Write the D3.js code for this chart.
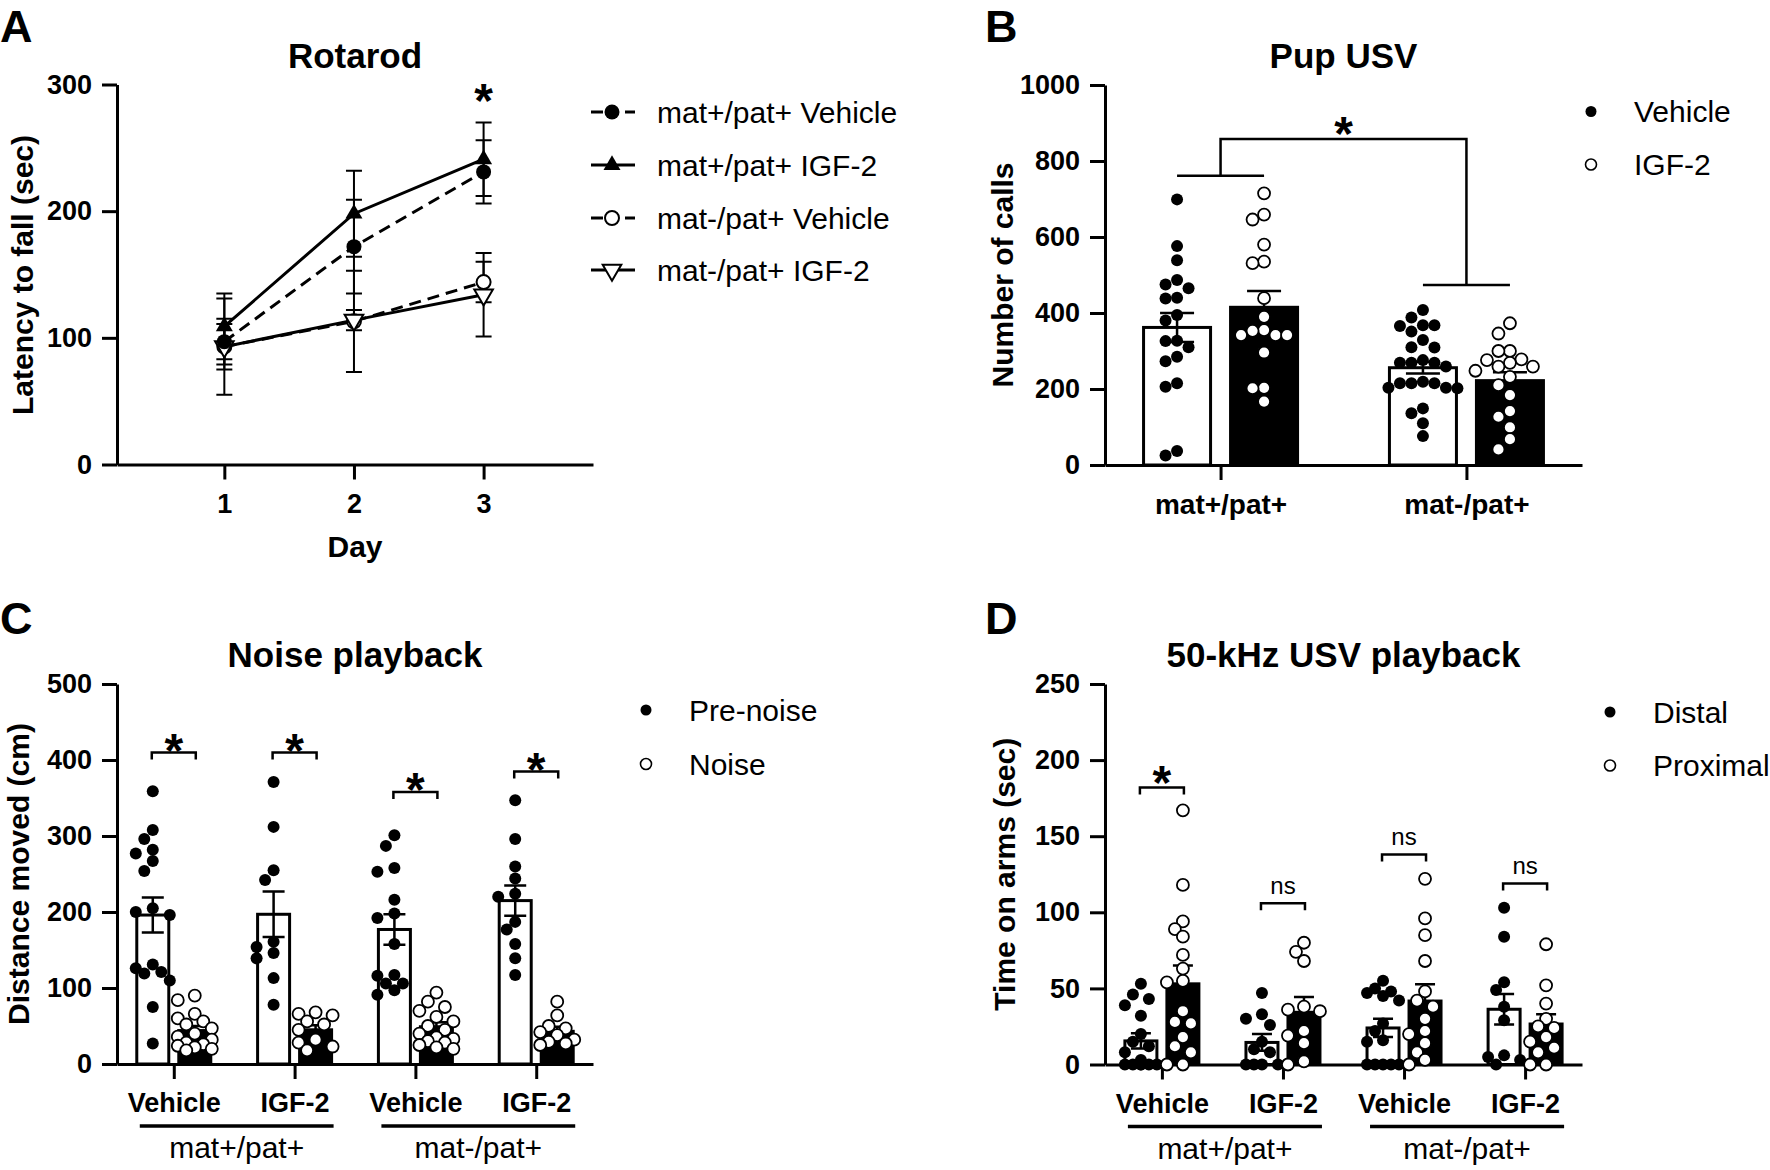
<!DOCTYPE html>
<html><head><meta charset="utf-8">
<script src="https://cdn.jsdelivr.net/npm/d3@7"></script>
<style>
html,body{margin:0;padding:0;background:#fff;}
svg{display:block;}
</style></head><body>
<svg id="fig" width="1770" height="1170"></svg>
<script>
// ================= DATA =================
// Panel A: Rotarod
const rotarodDays = [1, 2, 3];
const rotarodTicks = [0, 100, 200, 300];
const rotarodSeries = ["mat+/pat+ Vehicle", "mat+/pat+ IGF-2", "mat-/pat+ Vehicle", "mat-/pat+ IGF-2"];
const rotarodMatpVeh = [97, 172, 231];
const rotarodMatpIGF = [109, 198, 241];
const rotarodMatmVeh = [93, 113, 144];
const rotarodMatmIGF = [93, 114, 134];
const rotarodSemMatpVeh = [18, 37, 25];
const rotarodSemMatpIGF = [26, 34, 29];
const rotarodSemMatmVeh = [38, 40, 16];
const rotarodSemMatmIGF = [18, 8, 33];

// Panel B: Pup USV
const usvGenotypes = ["mat+/pat+", "mat-/pat+"];
const usvTreatments = ["Vehicle", "IGF-2"];
const usvTicks = [0, 200, 400, 600, 800, 1000];
const usvMeanVeh = [362, 256];
const usvMeanIGF = [415, 222];
const usvSemVeh = [38, 15];
const usvSemIGF = [43, 22];
const usvMatpVeh = [699, 576, 539, 487, 475, 465, 440, 438, 395, 380, 327, 326, 310, 285, 273, 215, 206, 37, 25];
const usvMatpIGF = [715, 659, 646, 580, 535, 531, 439, 390, 355, 353, 342, 342, 342, 296, 203, 202, 167];
const usvMatmVeh = [408, 388, 368, 368, 366, 351, 329, 310, 309, 276, 269, 269, 269, 259, 219, 215, 215, 215, 203, 203, 202, 149, 136, 110, 76];
const usvMatmIGF = [373, 346, 300, 300, 278, 276, 269, 259, 259, 248, 232, 210, 184, 142, 127, 99, 68, 41];
const usvBracketLevels = [858, 761, 474]; // top, left group, right group

// Panel C: Noise playback
const groupLabels = ["Vehicle", "IGF-2", "Vehicle", "IGF-2"];
const genotypeLabels = ["mat+/pat+", "mat-/pat+"];
const noiseTicks = [0, 100, 200, 300, 400, 500];
const noiseLegend = ["Pre-noise", "Noise"];
const preNoiseMean = [196, 197, 177, 215];
const preNoiseSem = [23, 30, 20, 20];
const noiseMean = [44, 45, 49, 43];
const noiseSem = [6, 6, 6, 6];
const preMatpVeh = [359, 308, 296, 282, 277, 267, 254, 205, 200, 196, 131, 126, 121, 119, 110, 75, 27];
const noiseMatpVeh = [90, 84, 66, 60, 56, 52, 47, 40, 36, 32, 28, 26, 24, 22, 20, 18];
const preMatpIGF = [371, 312, 255, 242, 161, 154, 146, 139, 113, 78];
const noiseMatpIGF = [68, 66, 64, 56, 52, 45, 32, 28, 23, 18];
const preMatmVeh = [301, 287, 258, 253, 216, 198, 192, 158, 117, 116, 106, 106, 97, 91];
const noiseMatmVeh = [94, 82, 75, 70, 62, 56, 50, 45, 40, 35, 33, 30, 28, 25, 22, 20];
const preMatmIGF = [347, 296, 260, 244, 224, 220, 187, 177, 158, 139, 117];
const noiseMatmIGF = [82, 64, 50, 47, 42, 38, 32, 29, 27, 25];
const noiseBracket = [410, 410, 358, 385];
const noiseSig = ["*", "*", "*", "*"];

// Panel D: 50-kHz USV playback
const playbackTicks = [0, 50, 100, 150, 200, 250];
const playbackLegend = ["Distal", "Proximal"];
const distalMean = [15.5, 14.5, 24, 36.3];
const distalSem = [5, 5.5, 6, 10];
const proximalMean = [53, 34.3, 41.7, 26.6];
const proximalSem = [12, 10, 11, 6.4];
const distMatpVeh = [53, 46, 43, 39, 32, 20, 15, 12, 8, 3, 0, 0, 0, 0, 0, 0];
const proxMatpVeh = [167, 118, 94, 89, 84, 72, 63, 55, 54, 35, 28, 27, 18, 12, 8, 0, 0];
const distMatpIGF = [47, 33, 30, 26, 15, 10, 8, 0, 0, 0, 0];
const proxMatpIGF = [80, 74, 68, 38, 36, 35, 22, 19, 14, 2, 0];
const distMatmVeh = [55, 50, 48, 47, 45, 42, 27, 22, 16, 15, 0, 0, 0, 0, 0];
const proxMatmVeh = [122, 96, 85, 68, 48, 42, 38, 30, 22, 20, 14, 8, 3, 0];
const distMatmIGF = [103, 84, 54, 49, 38, 29, 6, 5, 3, 0];
const proxMatmIGF = [79, 52, 40, 30, 25, 24, 18, 15, 11, 8, 0, 0];
const playbackBracket = [182, 106, 138, 119];
const playbackSig = ["*", "ns", "ns", "ns"];

// ================= DRAWING =================
const FONT = '"Liberation Sans", Arial, Helvetica, sans-serif';
const svg = d3.select("#fig");
svg.append("rect").attr("width", 1770).attr("height", 1170).attr("fill", "#fff");

function txt(x, y, s, size, weight, anchor) {
  return svg.append("text").attr("x", x).attr("y", y).text(s)
    .attr("font-family", FONT).attr("font-size", size)
    .attr("font-weight", weight || "normal").attr("text-anchor", anchor || "start").attr("fill", "#000");
}
function ylabel(x, y, s) {
  svg.append("text").attr("transform", `translate(${x},${y}) rotate(-90)`).text(s)
    .attr("font-family", FONT).attr("font-size", 30).attr("font-weight", "bold")
    .attr("text-anchor", "middle").attr("fill", "#000");
}
function styleAxis(g, size) {
  g.attr("font-family", FONT).attr("font-size", size).attr("font-weight", "bold");
  g.selectAll("path,line").attr("stroke", "#000").attr("stroke-width", 3);
  g.selectAll("text").attr("fill", "#000");
}
function star(x, yCenter, size) {
  const s = size || 48;
  txt(x, yCenter + 0.57 * s, "*", s, "bold", "middle");
}
function swarm(vals, y, step, maxK, minD) {
  const placed = [];
  return vals.map(v => {
    const py = y(v);
    const cands = [0];
    for (let k = 1; k <= maxK; k++) cands.push(-k * step, k * step);
    let best = 0, bestD = -1;
    for (const cx of cands) {
      let md = Infinity;
      for (const p of placed) md = Math.min(md, Math.hypot(p[0] - cx, p[1] - py));
      if (md >= minD) { best = cx; bestD = md; break; }
      if (md > bestD) { bestD = md; best = cx; }
    }
    placed.push([best, py]);
    return best;
  });
}

// panel letters
txt(0, 42, "A", 45, "bold");
txt(985, 42, "B", 45, "bold");
txt(0, 634, "C", 45, "bold");
txt(985, 634, "D", 45, "bold");

// ---------- Panel A ----------
(function () {
  const x = d3.scaleLinear().domain([0.172, 3.844]).range([117, 593]);
  const y = d3.scaleLinear().domain([0, 300]).range([464.5, 84.5]);
  txt(355, 68, "Rotarod", 35, "bold", "middle");
  styleAxis(svg.append("g").attr("transform", "translate(117,0)")
    .call(d3.axisLeft(y).tickValues(rotarodTicks).tickSize(15).tickSizeOuter(0).tickPadding(10)), 27);
  styleAxis(svg.append("g").attr("transform", "translate(0,464.5)")
    .call(d3.axisBottom(x).tickValues(rotarodDays).tickSize(15).tickSizeOuter(0).tickPadding(14).tickFormat(d3.format("d"))), 27);
  txt(355, 557, "Day", 30, "bold", "middle");
  ylabel(33, 275, "Latency to fall (sec)");

  const means = [rotarodMatpVeh, rotarodMatpIGF, rotarodMatmVeh, rotarodMatmIGF];
  const sems = [rotarodSemMatpVeh, rotarodSemMatpIGF, rotarodSemMatmVeh, rotarodSemMatmIGF];
  const dashed = [true, false, true, false];
  const line = d3.line().x((d, i) => x(rotarodDays[i])).y(d => y(d));
  means.forEach((m, si) => {
    svg.append("path").attr("d", line(m)).attr("fill", "none").attr("stroke", "#000")
      .attr("stroke-width", 3).attr("stroke-dasharray", dashed[si] ? "12 7" : null);
  });
  // error bars
  means.forEach((m, si) => {
    m.forEach((v, i) => {
      const cx = x(rotarodDays[i]);
      const hi = y(v + sems[si][i]), lo = y(v - sems[si][i]);
      svg.append("path").attr("d", `M${cx},${hi}V${lo}M${cx - 8},${hi}H${cx + 8}M${cx - 8},${lo}H${cx + 8}`)
        .attr("stroke", "#000").attr("stroke-width", 2).attr("fill", "none");
    });
  });
  function marker(kind, cx, cy) {
    if (kind === 0) svg.append("circle").attr("cx", cx).attr("cy", cy).attr("r", 7.5).attr("fill", "#000");
    if (kind === 1) svg.append("path").attr("d", d3.symbol(d3.symbolTriangle, 125)()).attr("transform", `translate(${cx},${cy})`).attr("fill", "#000");
    if (kind === 2) svg.append("circle").attr("cx", cx).attr("cy", cy).attr("r", 7).attr("fill", "#fff").attr("stroke", "#000").attr("stroke-width", 2);
    if (kind === 3) svg.append("path").attr("d", d3.symbol(d3.symbolTriangle, 150)()).attr("transform", `translate(${cx},${cy}) rotate(180)`).attr("fill", "#fff").attr("stroke", "#000").attr("stroke-width", 2);
  }
  [2, 3, 0, 1].forEach(si => means[si].forEach((v, i) => marker(si, x(rotarodDays[i]), y(v))));
  star(x(3), 90, 48);
  // legend
  const rows = [112, 165, 218, 270];
  rotarodSeries.forEach((s, si) => {
    const ry = rows[si];
    svg.append("line").attr("x1", 591).attr("x2", 635).attr("y1", ry).attr("y2", ry)
      .attr("stroke", "#000").attr("stroke-width", 3).attr("stroke-dasharray", dashed[si] ? "12 22 10 40" : null);
    marker(si, 612, ry);
    txt(657, ry + 10.5, s, 30, "normal", "start");
  });
})();

// ---------- generic bar panel ----------
function barPanel(o) {
  const y = d3.scaleLinear().domain([0, o.max]).range([o.y0, o.y1]);
  const x = d3.scalePoint().domain(d3.range(o.cats.length)).range([o.x0, o.x1]).padding(0.47);
  txt((o.x0 + o.x1) / 2, o.y1 - 17, o.title, 35, "bold", "middle");
  // bars
  o.series.forEach((s, si) => {
    o.cats.forEach((c, ci) => {
      const cx = x(ci) + o.offsets[si];
      const top = y(s.mean[ci]);
      svg.append("rect").attr("x", cx - o.barW / 2).attr("y", top).attr("width", o.barW).attr("height", o.y0 - top)
        .attr("fill", s.barFill).attr("stroke", "#000").attr("stroke-width", 3);
    });
  });
  // axes
  styleAxis(svg.append("g").attr("transform", `translate(${o.x0},0)`)
    .call(d3.axisLeft(y).tickValues(o.ticks).tickSize(15).tickSizeOuter(0).tickPadding(10).tickFormat(d3.format("d"))), 27);
  styleAxis(svg.append("g").attr("transform", `translate(0,${o.y0})`)
    .call(d3.axisBottom(x).tickSize(15).tickSizeOuter(0).tickPadding(14).tickFormat(i => o.cats[i])), o.catSize || 27);
  ylabel(o.ylabX, (o.y0 + o.y1) / 2, o.ylabel);
  // error bars
  o.series.forEach((s, si) => {
    o.cats.forEach((c, ci) => {
      const cx = x(ci) + o.offsets[si];
      const hi = y(s.mean[ci] + s.sem[ci]), lo = y(Math.max(0, s.mean[ci] - s.sem[ci]));
      const h = o.capW / 2;
      svg.append("path").attr("d", `M${cx},${hi}V${lo}M${cx - h},${hi}H${cx + h}M${cx - h},${lo}H${cx + h}`)
        .attr("stroke", "#000").attr("stroke-width", 2.5).attr("fill", "none");
    });
  });
  // dots
  o.series.forEach((s, si) => {
    o.cats.forEach((c, ci) => {
      const cx = x(ci) + o.offsets[si];
      const pts = s.points[ci];
      const offs = swarm(pts, y, o.step, o.maxK, o.minD);
      pts.forEach((v, k) => {
        svg.append("circle").attr("cx", cx + offs[k]).attr("cy", y(v)).attr("r", o.r)
          .attr("fill", s.dotFill).attr("stroke", "#000").attr("stroke-width", s.dotFill === "#000" ? 0 : 1.8);
      });
    });
  });
  // legend
  o.legend.forEach((l, li) => {
    const ry = o.legRows[li];
    svg.append("circle").attr("cx", o.legDotX).attr("cy", ry).attr("r", 5.5)
      .attr("fill", o.series[li].dotFill).attr("stroke", "#000").attr("stroke-width", li === 0 ? 0 : 1.6);
    txt(o.legDotX + 43, ry + 10.5, l, 30, "normal", "start");
  });
  return { x, y };
}

// ---------- Panel B ----------
(function () {
  const p = barPanel({
    x0: 1105, x1: 1582, y0: 465, y1: 85, max: 1000, ticks: usvTicks,
    cats: usvGenotypes, catSize: 28, title: "Pup USV", ylabel: "Number of calls", ylabX: 1013,
    offsets: [-43.5, 43.5], barW: 67, capW: 34, r: 6, step: 11.5, maxK: 3, minD: 11.5,
    series: [
      { mean: usvMeanVeh, sem: usvSemVeh, points: [usvMatpVeh, usvMatmVeh], barFill: "#fff", dotFill: "#000" },
      { mean: usvMeanIGF, sem: usvSemIGF, points: [usvMatpIGF, usvMatmIGF], barFill: "#000", dotFill: "#fff" }
    ],
    legend: usvTreatments, legRows: [111.5, 164.5], legDotX: 1591
  });
  const { x, y } = p;
  const g1 = x(0), g2 = x(1);
  const top = y(usvBracketLevels[0]), l = y(usvBracketLevels[1]), r = y(usvBracketLevels[2]);
  svg.append("path").attr("d",
    `M${g1},${l}V${top}H${g2}V${r}M${g1 - 43.5},${l}H${g1 + 43.5}M${g2 - 43.5},${r}H${g2 + 43.5}`)
    .attr("stroke", "#000").attr("stroke-width", 2.5).attr("fill", "none");
  star((g1 + g2) / 2, top - 16, 48);
})();

// ---------- Panels C & D ----------
function groupUnder(x, y0) {
  [[0, 1], [2, 3]].forEach((pr, gi) => {
    const a = x(pr[0]) - 34, b = x(pr[1]) + 39;
    svg.append("line").attr("x1", a).attr("x2", b).attr("y1", y0 + 62).attr("y2", y0 + 62)
      .attr("stroke", "#000").attr("stroke-width", 3.5);
    txt((a + b) / 2, y0 + 94, genotypeLabels[gi], 30, "normal", "middle");
  });
}
function brackets(x, y, levels, sigs, off, starGap) {
  levels.forEach((lv, i) => {
    const a = x(i) - off, b = x(i) + off, yy = y(lv);
    svg.append("path").attr("d", `M${a},${yy + 7}V${yy}H${b}V${yy + 7}`)
      .attr("stroke", "#000").attr("stroke-width", 2.5).attr("fill", "none");
    if (sigs[i] === "*") star(x(i), yy - starGap, 48);
    else txt(x(i), yy - 9, sigs[i], 24, "normal", "middle");
  });
}

(function () {
  const p = barPanel({
    x0: 117, x1: 593, y0: 1064, y1: 684, max: 500, ticks: noiseTicks,
    cats: groupLabels, title: "Noise playback", ylabel: "Distance moved (cm)", ylabX: 29,
    offsets: [-21, 21], barW: 32, capW: 22, r: 6, step: 8.5, maxK: 2, minD: 11,
    series: [
      { mean: preNoiseMean, sem: preNoiseSem, points: [preMatpVeh, preMatpIGF, preMatmVeh, preMatmIGF], barFill: "#fff", dotFill: "#000" },
      { mean: noiseMean, sem: noiseSem, points: [noiseMatpVeh, noiseMatpIGF, noiseMatmVeh, noiseMatmIGF], barFill: "#000", dotFill: "#fff" }
    ],
    legend: noiseLegend, legRows: [710, 764], legDotX: 646
  });
  groupUnder(p.x, 1064);
  brackets(p.x, p.y, noiseBracket, noiseSig, 22, 13);
})();

(function () {
  const p = barPanel({
    x0: 1105, x1: 1582, y0: 1064.5, y1: 684, max: 250, ticks: playbackTicks,
    cats: groupLabels, title: "50-kHz USV playback", ylabel: "Time on arms (sec)", ylabX: 1015,
    offsets: [-21, 21], barW: 32, capW: 20, r: 6, step: 8, maxK: 2, minD: 11,
    series: [
      { mean: distalMean, sem: distalSem, points: [distMatpVeh, distMatpIGF, distMatmVeh, distMatmIGF], barFill: "#fff", dotFill: "#000" },
      { mean: proximalMean, sem: proximalSem, points: [proxMatpVeh, proxMatpIGF, proxMatmVeh, proxMatmIGF], barFill: "#000", dotFill: "#fff" }
    ],
    legend: playbackLegend, legRows: [712, 765.5], legDotX: 1610
  });
  groupUnder(p.x, 1064.5);
  brackets(p.x, p.y, playbackBracket, playbackSig, 22, 16);
})();
</script>
</body></html>
